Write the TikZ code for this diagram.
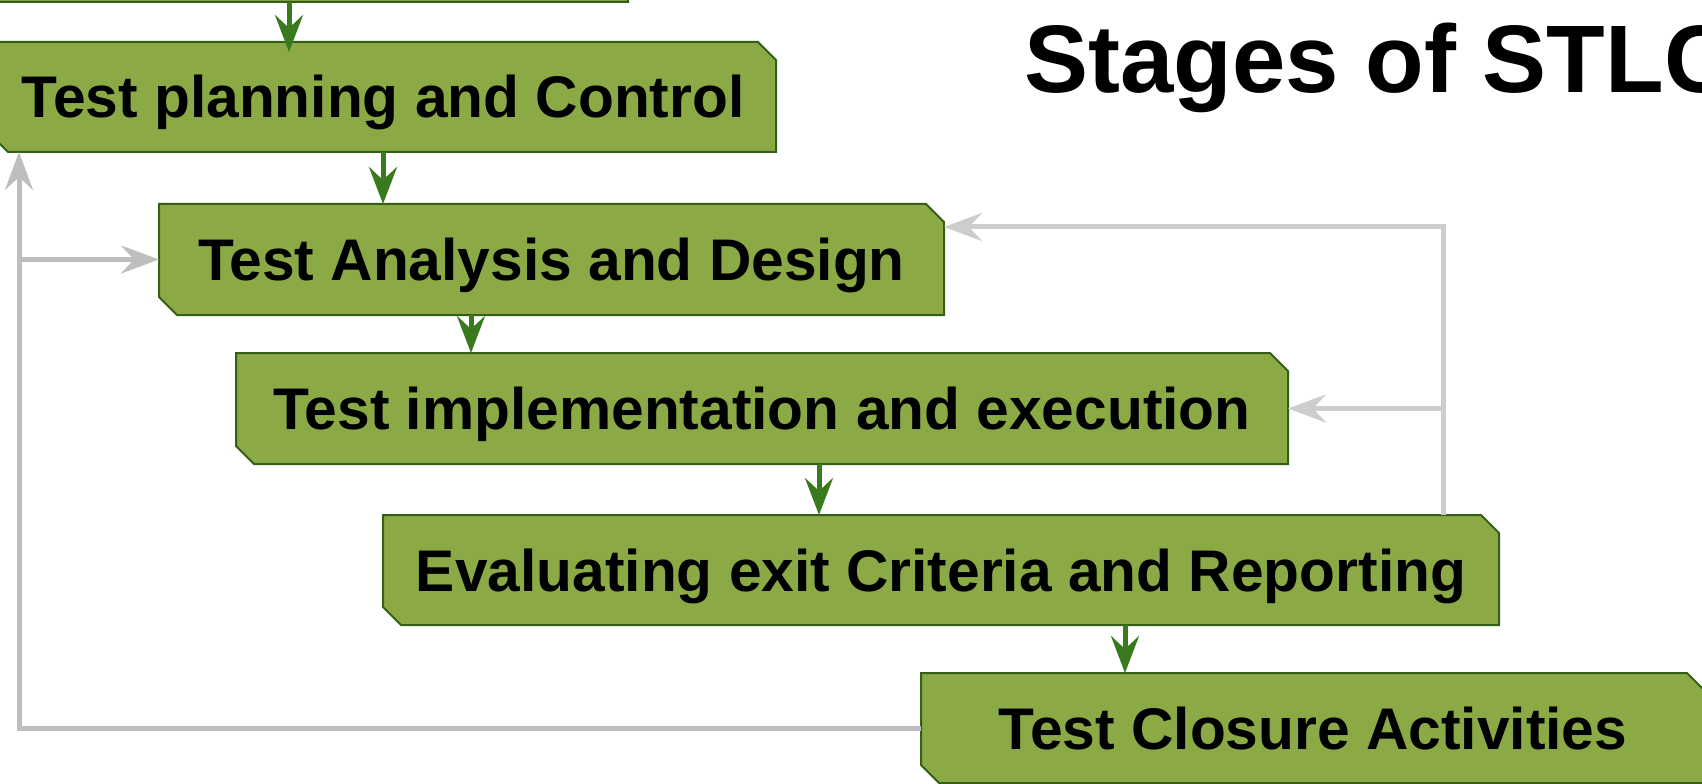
\documentclass[tikz,border=0pt]{standalone}
\usepackage{fontspec}
\setmainfont{Liberation Sans}
\usepackage{tikz}
\usetikzlibrary{arrows.meta}

\definecolor{stagefill}{HTML}{8BAA46}
\definecolor{stageline}{HTML}{335F17}
\definecolor{flowgreen}{HTML}{3A7A1E}
\definecolor{backgrey}{HTML}{BEBEBE}
\definecolor{backgrey2}{HTML}{CDCDCD}

\begin{document}
\begin{tikzpicture}[
  stage/.style={fill=stagefill, draw=stageline, line width=0.04cm},
  stagetext/.style={inner sep=0pt, outer sep=0pt, text height=0.84cm, text depth=0pt,
    font=\bfseries\fontsize{33.4pt}{40pt}\selectfont},
  flow/.style={draw=flowgreen, line width=0.1cm, -{Stealth[length=0.74cm, width=0.56cm, inset=0.26cm]}},
  back/.style={draw=backgrey, line width=0.1cm, -{Stealth[length=0.76cm, width=0.56cm, inset=0.26cm]}}
]
\useasboundingbox (0,0) rectangle (34.04,-15.68);

% boxes, corners cut at top right and bottom left
\filldraw [stage] (-1,2.16) -- (12.2,2.16) -- (12.56,1.8) -- (12.56,-0.04) -- (-0.64,-0.04) -- (-1,0.32) -- cycle;
\filldraw [stage] (-0.2,-0.84) -- (15.16,-0.84) -- (15.52,-1.2) -- (15.52,-3.04) -- (0.16,-3.04) -- (-0.2,-2.68) -- cycle;
\filldraw [stage] (3.18,-4.08) -- (18.52,-4.08) -- (18.88,-4.44) -- (18.88,-6.30) -- (3.54,-6.30) -- (3.18,-5.94) -- cycle;
\filldraw [stage] (4.72,-7.06) -- (25.40,-7.06) -- (25.76,-7.42) -- (25.76,-9.28) -- (5.08,-9.28) -- (4.72,-8.92) -- cycle;
\filldraw [stage] (7.66,-10.30) -- (29.62,-10.30) -- (29.98,-10.66) -- (29.98,-12.50) -- (8.02,-12.50) -- (7.66,-12.14) -- cycle;
\filldraw [stage] (18.42,-13.46) -- (33.74,-13.46) -- (34.10,-13.82) -- (34.10,-15.66) -- (18.78,-15.66) -- (18.42,-15.30) -- cycle;

\node [stagetext, minimum width=13.56cm, minimum height=2.2cm] (req) at (5.78,1.06) {};
\node [stagetext, minimum width=15.72cm, minimum height=2.2cm] (plan) at (7.66,-1.94) {Test planning and Control};
\node [stagetext, minimum width=15.70cm, minimum height=2.22cm] (analysis) at (11.03,-5.19) {Test Analysis and Design};
\node [stagetext, minimum width=21.04cm, minimum height=2.22cm] (impl) at (15.24,-8.17) {Test implementation and execution};
\node [stagetext, minimum width=22.32cm, minimum height=2.2cm] (eval) at (18.82,-11.40) {Evaluating exit Criteria and Reporting};
\node [stagetext, minimum width=15.68cm, minimum height=2.2cm] (closure) at (26.26,-14.56) {Test Closure Activities};

\node [anchor=base west, inner sep=0pt, font=\bfseries\fontsize{54.6pt}{66pt}\selectfont] (title) at (20.48,-1.86) {Stages of STLC};

% green arrows down the stages
\coordinate (f2) at (9.42,0);
\coordinate (f3) at (16.38,0);
\coordinate (f4) at (22.50,0);
\draw [flow, shorten >=-0.2cm] (req.south) -- (plan.north -| req.south);
\draw [flow] (plan.south) -- (analysis.north -| plan.south);
\draw [flow] (analysis.south -| f2) -- (impl.north -| f2);
\draw [flow] (impl.south -| f3) -- (eval.north -| f3);
\draw [flow] (eval.south -| f4) -- (closure.north -| f4);

% grey lines going back
\coordinate (k1) at (0.38,0);
\coordinate (k3) at (28.86,-4.54);
\draw [back] (closure.west) -| (plan.south -| k1);
\draw [back] (analysis.west -| k1) -- (analysis.west);
\draw [back, draw=backgrey2] (eval.north -| k3) -- (k3) -- (analysis.east |- k3);
\draw [back, draw=backgrey2] (impl.east -| k3) -- (impl.east);
\end{tikzpicture}
\end{document}
